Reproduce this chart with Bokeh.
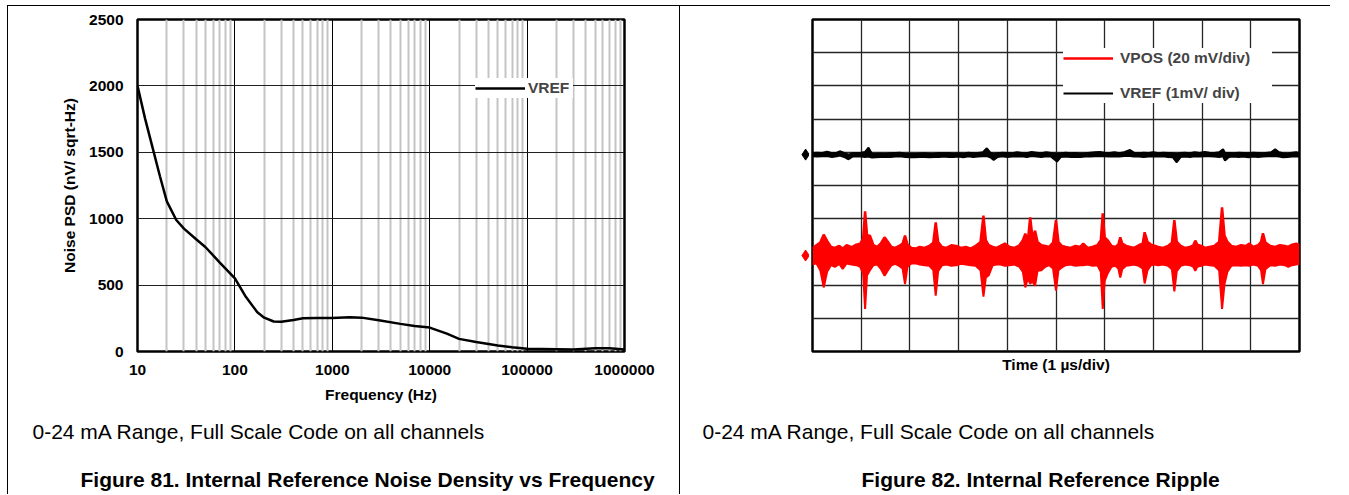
import numpy as np
from bokeh.plotting import figure
from bokeh.models import (FixedTicker, PrintfTickFormatter, Legend, LegendItem,
                          Label, Spacer)
from bokeh.layouts import row, column
from bokeh.embed import file_html
from bokeh.resources import INLINE

FONT = "Liberation Sans"
FS = "15.5px"

# ---------------- Figure 81 data ----------------
freq_hz = [10, 12, 14, 17, 20, 25, 30, 40, 50, 70, 100, 130, 170, 200, 250, 300,
           400, 500, 700, 1000, 1500, 2000, 3000, 5000, 7000, 10000, 15000, 20000,
           30000, 50000, 70000, 100000, 200000, 300000, 500000, 700000, 1000000]
vref_psd = [2000, 1750, 1560, 1320, 1130, 990, 925, 845, 785, 670, 550, 410, 295, 255,
            226, 224, 238, 250, 253, 253, 257, 255, 235, 208, 192, 180, 135, 95,
            72, 45, 32, 20, 17, 15, 24, 24, 15]
decades = [10, 100, 1000, 10000, 100000, 1000000]
psd_ticks = [0, 500, 1000, 1500, 2000, 2500]

# ---------------- Figure 82 data (scope divisions) ----------------
div_ticks = [0, 1, 2, 3, 4, 5, 6, 7, 8, 9, 10]
channel_names = ["VREF", "VPOS"]
channel_offsets = [5.93, 2.89]

vref_t = [0.00, 0.10, 0.20, 0.30, 0.40, 0.50, 0.56, 0.65, 0.74, 0.82,
          0.90, 1.00, 1.08, 1.15, 1.22, 1.30, 1.40, 1.50, 1.60, 1.70,
          1.80, 1.90, 2.00, 2.10, 2.20, 2.30, 2.40, 2.50, 2.60, 2.70,
          2.80, 2.90, 3.00, 3.10, 3.20, 3.30, 3.40, 3.50, 3.58, 3.65,
          3.72, 3.80, 3.90, 4.00, 4.10, 4.20, 4.30, 4.40, 4.50, 4.60,
          4.70, 4.80, 4.90, 5.02, 5.10, 5.20, 5.30, 5.40, 5.50, 5.60,
          5.70, 5.80, 5.90, 6.00, 6.10, 6.20, 6.30, 6.40, 6.52, 6.60,
          6.70, 6.80, 6.90, 7.00, 7.10, 7.20, 7.30, 7.40, 7.48, 7.56,
          7.65, 7.75, 7.85, 7.95, 8.05, 8.15, 8.25, 8.35, 8.43, 8.47,
          8.55, 8.65, 8.75, 8.85, 8.95, 9.05, 9.15, 9.25, 9.35, 9.42,
          9.50, 9.58, 9.66, 9.75, 9.85, 9.93, 10.00]
vref_hi = [5.98, 5.99, 5.98, 6.02, 5.97, 5.99, 6.03, 5.98, 5.93, 5.97,
           5.98, 5.99, 6.01, 6.14, 5.96, 5.95, 5.96, 5.95, 5.97, 5.98,
           5.99, 5.96, 5.95, 5.95, 5.96, 5.97, 5.95, 5.96, 5.98, 5.97,
           5.98, 5.96, 5.97, 5.96, 5.99, 5.97, 5.98, 6.00, 6.12, 5.99,
           5.95, 5.97, 5.99, 5.98, 5.97, 6.00, 5.98, 5.97, 6.01, 5.99,
           5.97, 6.00, 5.98, 5.96, 5.97, 5.99, 5.97, 5.98, 5.96, 5.97,
           5.99, 6.00, 6.01, 5.99, 5.98, 6.00, 5.97, 6.00, 6.07, 5.99,
           5.97, 5.99, 5.98, 6.00, 5.97, 5.99, 5.98, 5.97, 5.95, 5.98,
           5.99, 5.97, 6.00, 5.98, 6.01, 5.99, 5.98, 6.00, 6.09, 5.98,
           5.98, 5.97, 5.99, 5.98, 5.97, 5.99, 5.98, 5.97, 5.99, 6.00,
           6.09, 6.00, 5.97, 5.96, 5.99, 6.00, 5.98]
vref_lo = [5.88, 5.87, 5.88, 5.89, 5.86, 5.88, 5.90, 5.86, 5.79, 5.87,
           5.88, 5.87, 5.86, 5.87, 5.84, 5.85, 5.86, 5.86, 5.86, 5.87,
           5.88, 5.86, 5.85, 5.85, 5.86, 5.86, 5.85, 5.86, 5.86, 5.87,
           5.86, 5.86, 5.87, 5.85, 5.88, 5.86, 5.87, 5.88, 5.89, 5.85,
           5.77, 5.86, 5.88, 5.86, 5.87, 5.87, 5.88, 5.86, 5.89, 5.87,
           5.86, 5.88, 5.87, 5.72, 5.86, 5.87, 5.86, 5.86, 5.86, 5.87,
           5.87, 5.88, 5.88, 5.88, 5.87, 5.88, 5.87, 5.89, 5.89, 5.87,
           5.87, 5.86, 5.87, 5.87, 5.87, 5.88, 5.86, 5.85, 5.70, 5.86,
           5.87, 5.86, 5.88, 5.87, 5.88, 5.88, 5.87, 5.86, 5.88, 5.75,
           5.86, 5.87, 5.86, 5.87, 5.85, 5.87, 5.86, 5.87, 5.88, 5.88,
           5.89, 5.87, 5.85, 5.86, 5.87, 5.88, 5.87]

vpos_t = [0.00, 0.08, 0.16, 0.23, 0.30, 0.38, 0.46, 0.55, 0.62, 0.70,
          0.80, 0.90, 0.98, 1.04, 1.08, 1.12, 1.18, 1.25, 1.33, 1.40,
          1.48, 1.55, 1.62, 1.70, 1.78, 1.85, 1.90, 1.95, 2.03, 2.12,
          2.20, 2.30, 2.40, 2.48, 2.53, 2.58, 2.66, 2.75, 2.85, 2.95,
          3.05, 3.15, 3.25, 3.35, 3.45, 3.51, 3.56, 3.62, 3.70, 3.78,
          3.86, 3.95, 4.05, 4.15, 4.25, 4.32, 4.37, 4.42, 4.47, 4.52,
          4.57, 4.62, 4.70, 4.78, 4.86, 4.94, 5.00, 5.05, 5.12, 5.20,
          5.30, 5.40, 5.50, 5.56, 5.65, 5.75, 5.85, 5.92, 5.96, 6.00,
          6.06, 6.14, 6.22, 6.28, 6.32, 6.36, 6.44, 6.52, 6.60, 6.70,
          6.78, 6.82, 6.88, 6.95, 7.02, 7.10, 7.20, 7.30, 7.38, 7.43,
          7.48, 7.56, 7.65, 7.75, 7.82, 7.86, 7.90, 7.98, 8.06, 8.15,
          8.25, 8.35, 8.41, 8.46, 8.52, 8.60, 8.70, 8.80, 8.90, 8.97,
          9.05, 9.15, 9.21, 9.25, 9.30, 9.40, 9.50, 9.60, 9.70, 9.77,
          9.85, 9.93, 10.00]
vpos_hi = [3.10, 3.20, 3.28, 3.52, 3.33, 3.15, 3.12, 3.18, 3.10, 3.20,
           3.14, 3.22, 3.25, 3.40, 4.22, 3.50, 3.49, 3.20, 3.15, 3.25,
           3.44, 3.30, 3.15, 3.12, 3.18, 3.25, 3.49, 3.22, 3.12, 3.10,
           3.15, 3.12, 3.18, 3.28, 3.89, 3.30, 3.15, 3.12, 3.20, 3.18,
           3.12, 3.15, 3.10, 3.18, 3.30, 4.09, 3.35, 3.20, 3.15, 3.12,
           3.18, 3.25, 3.15, 3.12, 3.20, 3.35, 3.55, 3.30, 4.04, 3.40,
           3.64, 3.30, 3.20, 3.18, 3.15, 3.28, 3.96, 3.30, 3.18, 3.15,
           3.12, 3.18, 3.15, 3.25, 3.12, 3.15, 3.20, 3.35, 4.16, 3.44,
           3.35, 3.18, 3.15, 3.22, 3.44, 3.25, 3.18, 3.15, 3.12, 3.20,
           3.25, 3.59, 3.30, 3.22, 3.19, 3.15, 3.12, 3.18, 3.28, 3.96,
           3.30, 3.18, 3.12, 3.15, 3.20, 3.34, 3.22, 3.18, 3.12, 3.15,
           3.18, 3.30, 4.34, 3.49, 3.30, 3.18, 3.15, 3.20, 3.18, 3.25,
           3.15, 3.20, 3.30, 3.56, 3.28, 3.18, 3.15, 3.20, 3.18, 3.15,
           3.22, 3.25, 3.20]
vpos_lo = [2.62, 2.66, 2.45, 1.93, 2.40, 2.60, 2.55, 2.64, 2.49, 2.65,
           2.62, 2.60, 2.55, 2.35, 1.28, 2.30, 2.45, 2.60, 2.62, 2.50,
           2.28, 2.45, 2.60, 2.64, 2.58, 2.50, 2.03, 2.55, 2.65, 2.66,
           2.62, 2.60, 2.58, 2.45, 1.68, 2.42, 2.60, 2.62, 2.58, 2.60,
           2.64, 2.62, 2.60, 2.58, 2.45, 1.65, 2.23, 2.30, 2.60, 2.62,
           2.62, 2.58, 2.60, 2.62, 2.55, 2.40, 1.93, 2.20, 2.05, 2.10,
           1.98, 2.43, 2.45, 2.55, 2.60, 2.50, 1.83, 2.45, 2.53, 2.60,
           2.62, 2.58, 2.60, 2.60, 2.62, 2.58, 2.60, 2.40, 1.28, 2.13,
           2.35, 2.55, 2.58, 2.50, 2.23, 2.48, 2.58, 2.60, 2.62, 2.58,
           2.50, 2.05, 2.45, 2.60, 2.62, 2.60, 2.62, 2.58, 2.48, 1.81,
           2.42, 2.58, 2.62, 2.60, 2.55, 2.43, 2.55, 2.58, 2.62, 2.60,
           2.58, 2.45, 1.28, 2.03, 2.40, 2.58, 2.60, 2.58, 2.60, 2.58,
           2.62, 2.58, 2.45, 2.03, 2.48, 2.60, 2.58, 2.62, 2.60, 2.55,
           2.60, 2.62, 2.65]

caption_text = "0-24 mA Range, Full Scale Code on all channels"
title_81 = "Figure 81. Internal Reference Noise Density vs Frequency"
title_82 = "Figure 82. Internal Reference Ripple"

# layout geometry (pixels)
TOP_B, FRAME_H, BOT_B = 13, 332, 67
PLOT_H = TOP_B + FRAME_H + BOT_B      # 412
CAP_H = 494 - 6 - PLOT_H              # 76


def style_text_axis(ax):
    ax.axis_line_color = None
    ax.major_tick_line_color = None
    ax.minor_tick_line_color = None
    ax.major_tick_out = 0
    ax.major_tick_in = 0
    ax.major_label_text_font = FONT
    ax.major_label_text_font_style = "bold"
    ax.major_label_text_font_size = FS
    ax.major_label_text_color = "black"
    ax.axis_label_text_font = FONT
    ax.axis_label_text_font_style = "bold"
    ax.axis_label_text_font_size = FS
    ax.axis_label_text_color = "black"


def caption_fig(width, cap_x, title_x, title):
    c = figure(width=width, height=CAP_H, x_range=(0, 1), y_range=(0, 1),
               output_backend="svg", toolbar_location=None, min_border=0)
    c.axis.visible = False
    c.grid.visible = False
    c.outline_line_color = None
    c.add_layout(Label(x=cap_x, y=63.5, x_units="screen", y_units="screen",
                       text=caption_text, text_font=FONT, text_font_size="21px",
                       text_baseline="alphabetic", text_color="black"))
    c.add_layout(Label(x=title_x, y=15, x_units="screen", y_units="screen",
                       text=title, text_font=FONT, text_font_size="21px",
                       text_font_style="bold", text_baseline="alphabetic",
                       text_color="black"))
    return c


# ---------------- Figure 81 ----------------
p1 = figure(width=671, height=PLOT_H, x_axis_type="log", x_range=(10, 1e6),
            y_range=(0, 2500), output_backend="svg", toolbar_location=None,
            min_border_left=129, min_border_right=55, min_border_top=TOP_B,
            min_border_bottom=BOT_B)
p1.outline_line_color = "black"
p1.outline_line_width = 2.5
minor = [d * k for d in decades[:-1] for k in range(2, 10)]
p1.xaxis.ticker = FixedTicker(ticks=decades, minor_ticks=minor)
p1.xaxis.formatter = PrintfTickFormatter(format="%d")
p1.yaxis.ticker = FixedTicker(ticks=psd_ticks)
style_text_axis(p1.xaxis)
style_text_axis(p1.yaxis)
p1.xaxis.major_label_standoff = 9
p1.xaxis.axis_label = "Frequency (Hz)"
p1.xaxis.axis_label_standoff = 8
p1.yaxis.major_label_standoff = 14
p1.yaxis.axis_label = "Noise PSD (nV/ sqrt-Hz)"
p1.yaxis.axis_label_standoff = 8
p1.xgrid.grid_line_color = "black"
p1.xgrid.grid_line_width = 1
p1.xgrid.minor_grid_line_color = "#c4c4c4"
p1.xgrid.minor_grid_line_width = 2
p1.ygrid.grid_line_color = "#202020"
p1.ygrid.grid_line_width = 1

r_vref = p1.line(freq_hz, vref_psd, line_color="black", line_width=2.5)
leg1 = Legend(items=[LegendItem(label="VREF", renderers=[r_vref])],
              location=(338, 253), padding=13, margin=0, border_line_color=None,
              background_fill_color="white", background_fill_alpha=1.0,
              glyph_width=50, glyph_height=20, label_height=20, label_standoff=3,
              label_width=45, label_text_font=FONT, label_text_font_style="bold",
              label_text_font_size=FS, spacing=0)
p1.add_layout(leg1)

cap1 = caption_fig(671, 24, 72, title_81)

# ---------------- Figure 82 ----------------
p2 = figure(width=540, height=PLOT_H, x_range=(0, 10), y_range=(0, 10),
            output_backend="svg", toolbar_location=None,
            min_border_left=3, min_border_right=50, min_border_top=TOP_B,
            min_border_bottom=BOT_B)
p2.outline_line_color = "black"
p2.outline_line_width = 2.5
p2.yaxis.visible = False
p2.xaxis.ticker = FixedTicker(ticks=[])
style_text_axis(p2.xaxis)
p2.xaxis.major_label_standoff = 0
p2.xaxis.axis_label = "Time (1 µs/div)"
p2.xaxis.axis_label_standoff = 4
p2.xgrid.ticker = FixedTicker(ticks=div_ticks)
p2.ygrid.ticker = FixedTicker(ticks=div_ticks)
for g in (p2.xgrid, p2.ygrid):
    g.grid_line_color = "#262626"
    g.grid_line_width = 1.3

p2.varea(x=vref_t, y1=vref_lo, y2=vref_hi, fill_color="black")
r_ref_hi = p2.line(vref_t, vref_hi, line_color="black", line_width=2)
p2.line(vref_t, vref_lo, line_color="black", line_width=2)
p2.varea(x=vpos_t, y1=vpos_lo, y2=vpos_hi, fill_color="#ff0000")
r_pos_hi = p2.line(vpos_t, vpos_hi, line_color="#ff0000", line_width=2.5)
p2.line(vpos_t, vpos_lo, line_color="#ff0000", line_width=2)

leg2 = Legend(items=[LegendItem(label="VPOS (20 mV/div)", renderers=[r_pos_hi]),
                     LegendItem(label="VREF (1mV/ div)", renderers=[r_ref_hi])],
              location=(251, 248), padding=8, margin=0, border_line_color=None,
              background_fill_color="white", background_fill_alpha=1.0,
              glyph_width=50, glyph_height=20, label_height=20, label_standoff=7,
              label_width=152, label_text_font=FONT, label_text_font_style="bold",
              label_text_font_size=FS, spacing=15)
p2.add_layout(leg2)

# strip left of the scope screen carrying the channel ground markers
pd = figure(width=129, height=PLOT_H, x_range=(-2.71, -0.06), y_range=p2.y_range,
            output_backend="svg", toolbar_location=None, min_border_left=0,
            min_border_right=0, min_border_top=TOP_B, min_border_bottom=BOT_B)
pd.axis.visible = False
pd.grid.visible = False
pd.outline_line_color = None
pd.scatter(x=[-0.14, -0.14], y=channel_offsets, marker="diamond", size=11,
           fill_color=["black", "#ff0000"], line_color=["black", "#ff0000"])

cap2 = caption_fig(669, 22, 181, title_82)

BLACK = {"background-color": "black"}
layout = column(
    Spacer(width=1349, height=5),
    row(Spacer(width=7, height=1), Spacer(width=1323, height=1, styles=BLACK), spacing=0),
    row(Spacer(width=7, height=PLOT_H),
        Spacer(width=1, height=PLOT_H, styles=BLACK),
        p1,
        Spacer(width=1, height=PLOT_H, styles=BLACK),
        pd, p2, spacing=0),
    row(Spacer(width=7, height=CAP_H),
        Spacer(width=1, height=CAP_H, styles=BLACK),
        cap1,
        Spacer(width=1, height=CAP_H, styles=BLACK),
        cap2, spacing=0),
    spacing=0)

open("out.html", "w").write(file_html(layout, INLINE))
